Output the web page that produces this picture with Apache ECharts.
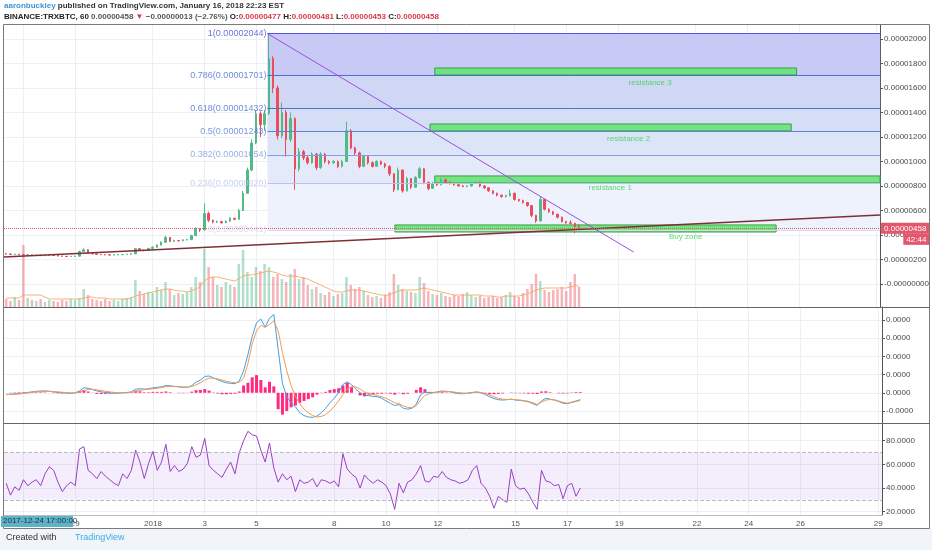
<!DOCTYPE html>
<html><head><meta charset="utf-8">
<script src="https://cdn.jsdelivr.net/npm/echarts@6/dist/echarts.min.js"></script>
<style>html,body{margin:0;padding:0;background:#fff}#c{width:932px;height:550px}</style>
</head><body><div id="c"></div>
<script>
// ---------- DATA (prices in satoshi = 1e-8 BTC, time in hours from 2018-01-01 00:00) ----------
const candleHours = [-136,-132,-128,-124,-120,-116,-112,-108,-104,-100,-96,-92,-88,-84,-80,-76,-72,-68,-64,-60,
-56,-52,-48,-44,-40,-36,-32,-28,-24,-20,-16,-12,-8,-4,0,4,8,12,16,20,24,28,32,36,40,44,48,52,56,60,
64,68,72,76,80,84,88,92,96,100,104,108,112,116,120,124,128,132,136,140,144,148,152,156,160,164,168,172,176,180,
184,188,192,196,200,204,208,212,216,220,224,228,232,236,240,244,248,252,256,260,264,268,272,276,280,284,288,292,296,300,
304,308,312,316,320,324,328,332,336,340,344,348,352,356,360,364,368,372,376,380,384,388,392,396];
const openP = [248,245,240,243,238,236,238,233,235,231,232,236,233,228,226,223,225,227,265,280,
250,246,241,240,238,236,238,240,240,243,246,288,275,272,290,300,318,340,380,348,
355,352,360,362,395,450,441,575,520,505,510,500,512,536,528,600,740,930,1150,1390,
1300,1390,1840,1600,1210,1400,1180,1350,940,1080,1030,990,1060,950,1060,1000,990,1000,960,1000,
1250,1110,1070,960,1040,990,960,1000,980,960,900,770,930,760,860,790,870,940,830,780,
820,810,850,830,820,810,800,795,800,825,830,800,785,760,740,725,713,720,740,690,
680,665,640,560,515,690,610,590,570,545,510,500,495,470];
const closeP = [245,240,243,238,236,238,233,235,231,232,236,233,228,226,223,225,227,265,280,250,
246,241,240,238,236,238,240,240,243,246,288,275,272,290,300,318,340,380,348,355,
352,360,362,395,450,441,575,520,505,510,500,512,536,528,600,740,930,1150,1390,1300,
1390,1840,1600,1210,1400,1180,1350,940,1080,1030,990,1060,950,1060,1000,990,1000,960,1000,1250,
1110,1070,960,1040,990,960,1000,980,960,900,770,930,760,860,790,870,940,830,780,820,
810,850,830,820,810,800,795,800,825,830,800,785,760,740,725,713,720,740,690,680,
665,640,560,515,690,610,590,570,545,510,500,495,470,458];
const lowP = [240,237,238,235,233,234,231,231,229,228,230,231,226,223,221,221,223,225,262,245,
242,238,236,235,233,234,236,237,238,241,244,270,266,270,286,296,314,336,342,344,
347,349,355,358,390,425,438,505,495,498,492,496,508,520,525,596,735,920,1140,1200,
1250,1380,1560,1180,1190,1040,1160,770,920,1010,975,980,930,940,985,975,980,945,950,995,
1100,1050,945,955,975,950,955,970,945,880,750,765,745,755,775,785,860,815,765,775,
800,805,820,812,802,795,790,790,796,818,790,775,752,732,715,705,706,715,680,670,
655,630,545,500,510,600,580,562,535,502,492,485,414,453];
const highP = [252,247,246,245,240,241,240,237,237,235,238,238,235,230,228,228,230,272,290,282,
253,248,244,242,240,241,243,244,246,252,295,292,280,295,306,324,348,392,384,360,
358,366,368,402,462,455,659,590,525,518,515,520,545,540,612,760,950,1180,1420,1410,
1420,2044,1860,1620,1480,1420,1400,1360,1110,1095,1045,1075,1070,1075,1070,1010,1012,1008,1015,1325,
1265,1120,1080,1055,1048,1000,1010,1008,990,968,905,950,935,875,865,880,955,945,835,835,
830,865,858,836,826,818,808,806,835,840,834,806,790,765,746,730,728,770,745,695,
688,670,645,565,710,695,618,596,575,550,516,520,500,490];
const volume = [8,6,10,7,62,9,7,6,8,5,7,6,5,7,6,8,7,9,18,12,
8,7,6,8,6,7,6,8,9,10,27,16,13,15,14,20,17,25,18,12,
14,13,15,20,30,25,58,40,30,22,20,25,22,20,43,57,35,30,40,36,
43,40,30,33,28,25,33,38,28,30,22,18,20,14,12,15,11,13,14,30,
22,18,20,16,12,10,11,9,12,15,33,22,18,16,15,14,30,24,16,13,
12,14,11,10,12,11,13,15,12,10,11,9,10,11,9,10,12,15,11,10,
14,18,23,33,26,17,15,17,18,20,16,25,33,20];
const volumeMA = [9,9,9,9,12,12,12,12,12,10,8,8,8,8,8,8,8,8,9,10,
10,9,9,9,8,8,8,8,8,9,11,12,13,14,15,16,17,18,18,17,
16,16,15,16,18,20,26,29,30,30,29,28,27,26,28,31,32,32,33,34,
35,36,35,34,32,31,31,31,30,29,28,26,24,22,20,18,16,15,15,16,
17,17,17,16,15,14,13,12,12,12,14,16,17,17,17,17,18,19,18,17,
16,15,14,13,12,12,12,12,12,12,12,11,11,11,10,10,11,11,11,11,
12,13,15,17,18,19,19,19,19,19,19,20,21,21];
const macdLine = [-0.09,-0.08,-0.06,-0.05,-0.02,0.02,0.05,0.08,0.1,0.1,0.08,0.05,0.02,0,-0.02,-0.03,0,0.1,0.27,0.25,
0.18,0.1,0.05,0.02,0,-0.02,-0.02,0,0.02,0.05,0.2,0.22,0.2,0.22,0.27,0.3,0.33,0.4,0.38,0.35,
0.32,0.3,0.3,0.4,0.58,0.7,0.9,0.92,0.82,0.72,0.62,0.55,0.52,0.5,0.65,1.2,2.1,3.1,3.85,4.05,
3.6,4.1,4.3,2.4,0.5,-0.22,-0.55,-0.77,-1.1,-1.25,-1.33,-1.35,-1.28,-1.1,-0.85,-0.55,-0.3,0,0.45,0.6,
0.45,0.2,0,-0.15,-0.15,-0.2,-0.22,-0.3,-0.45,-0.58,-0.7,-0.65,-0.85,-0.9,-0.85,-0.62,-0.1,0.05,0,0.02,
0.05,0.1,0.08,0.05,0,-0.05,-0.05,-0.02,0.02,0.05,0,-0.1,-0.22,-0.32,-0.38,-0.4,-0.38,-0.35,-0.4,-0.42,
-0.45,-0.5,-0.6,-0.7,-0.45,-0.3,-0.35,-0.4,-0.48,-0.58,-0.6,-0.52,-0.45,-0.38];
const signalLine = [-0.1,-0.09,-0.08,-0.06,-0.04,-0.01,0.02,0.05,0.07,0.08,0.08,0.07,0.05,0.03,0.01,-0.01,-0.01,0.03,0.12,0.18,
0.19,0.16,0.12,0.08,0.05,0.02,0,-0.01,0,0.02,0.08,0.14,0.17,0.19,0.22,0.25,0.28,0.33,0.35,0.35,
0.34,0.32,0.31,0.34,0.44,0.55,0.7,0.8,0.8,0.76,0.7,0.63,0.58,0.55,0.58,0.8,1.6,2.7,3.4,3.7,
3.6,3.75,3.95,3.4,2.2,1.2,0.4,-0.2,-0.6,-0.9,-1.1,-1.25,-1.33,-1.3,-1.2,-1.0,-0.75,-0.45,-0.1,0.2,
0.35,0.32,0.2,0.05,-0.05,-0.1,-0.15,-0.22,-0.3,-0.42,-0.55,-0.6,-0.72,-0.8,-0.82,-0.72,-0.4,-0.15,-0.05,0,
0.03,0.06,0.07,0.06,0.03,0,-0.03,-0.03,0,0.03,0.02,-0.04,-0.13,-0.22,-0.3,-0.35,-0.37,-0.36,-0.38,-0.4,
-0.43,-0.47,-0.55,-0.63,-0.52,-0.4,-0.37,-0.39,-0.45,-0.53,-0.57,-0.54,-0.48,-0.42];
const macdHist = [0,0.01,0.02,0.03,0.03,0.03,0.03,0.03,0.03,0.02,0,-0.02,-0.03,-0.03,-0.02,-0.01,0.01,0.07,0.15,0.07,
-0.01,-0.06,-0.07,-0.06,-0.05,-0.04,-0.02,0.01,0.02,0.03,0.12,0.08,0.03,0.03,0.05,0.05,0.05,0.07,0.03,0,
-0.02,-0.02,-0.01,0.06,0.14,0.15,0.2,0.12,0.02,-0.04,-0.08,-0.08,-0.06,-0.05,0.07,0.4,0.55,0.85,0.97,0.7,
0.3,0.6,0.35,-0.9,-1.2,-1.0,-0.8,-0.7,-0.55,-0.45,-0.35,-0.25,-0.1,-0.02,0.05,0.15,0.2,0.25,0.4,0.55,
0.3,0,-0.15,-0.2,-0.1,-0.08,-0.05,-0.05,-0.03,-0.05,-0.1,-0.02,-0.08,-0.05,0,0.15,0.3,0.2,0.05,0.02,
0.02,0.04,0.02,-0.01,-0.03,-0.02,-0.02,0.01,0.02,0.03,-0.02,-0.05,-0.08,-0.08,-0.06,-0.04,0,0.02,-0.02,-0.02,
-0.03,-0.05,-0.05,-0.07,0.07,0.08,0.03,0,-0.03,-0.04,-0.03,0.02,0.04,0.04];
const rsi = [44,34,41,38,47,42,45,47,42,52,58,55,45,37,42,45,42,73,75,55,
52,48,54,50,47,44,42,52,48,55,72,62,48,61,71,55,62,77,54,59,
54,56,61,75,66,68,82,59,55,52,49,56,62,52,70,80,88,85,84,72,
62,78,57,45,52,47,50,37,47,44,45,48,41,47,46,44,46,41,69,56,
52,49,40,51,47,44,47,45,42,35,22,44,36,45,47,52,59,46,45,50,
49,54,49,47,46,44,45,47,55,59,44,40,33,23,33,30,28,56,42,39,
40,35,28,22,55,46,45,42,43,31,42,44,33,40];

// axis ticks
const timeTicks = [-120,-72,0,48,96,168,216,264,336,384,432,504,552,600,672];
const timeTickLabels = ['27','29','2018','3','5','8','10','12','15','17','19','22','24','26','29'];
const priceTicks = [0,200,400,600,800,1000,1200,1400,1600,1800,2000];
const priceTickLabels = ['-0.00000000','0.00000200','0.00000400','0.00000600','0.00000800','0.00001000',
  '0.00001200','0.00001400','0.00001600','0.00001800','0.00002000'];
const macdTicks = [-1,0,1,2,3,4];
const macdTickLabels = ['-0.0000','0.0000','0.0000','0.0000','0.0000','0.0000'];
const rsiTicks = [20,40,60,80];
const rsiTickLabels = ['20.0000','40.0000','60.0000','80.0000'];

// drawings
const fibRatios = [1,0.786,0.618,0.5,0.382,0.236,0];
const fibPrices = [2044,1701,1432,1243,1054,820,441];
const fibStartT = 106.6;
const trendT = [106.6,446.6], trendP = [2044,261];
const supportT = [-138,675.5], supportP = [220,563];
const zoneNames = ['resistance 3','resistance 2','resistance 1','Buy zone'];
const zoneFromT = [262,257.6,262,225];
const zoneToT = [598,593,675.5,579];
const zoneTopP = [1763,1306,882,482];
const zoneBottomP = [1706,1249,824,424];
const zoneLabelT = [462,442,425,495];
const zoneLabelP = [1641,1184,784,384];
const rsiBand = [30,70];
const countdown = '42:44';

// ---------- STYLE ----------
const T0 = -138, T1 = 675.5;
const UP = '#53b987', DOWN = '#eb4d5c';
const fibBandColors = ['#c9c9f5','#cfd7f5','#d6def6','#dce4f8','#e4eaf9','#eef2fc'];
const fibLineColors = ['#5757d8','#4c70d2','#4c70d2','#5b82d9','#7d9ce1','#b4c4ec','#d3dbf2'];
const fibLabelColors = ['#4d4dd6','#4a6fd1','#4a6fd1','#5a80d8','#7b9be0','#bac7ec','#c8d2f0'];
const FONT = 'Liberation Sans';
const sat = v => (v/1e8).toFixed(8);

const chart = echarts.init(document.getElementById('c'));
const lastClose = closeP[closeP.length-1];

const gridDefs = [
  {left:4, top:25, width:878, height:282},
  {left:4, top:307, width:878, height:116},
  {left:4, top:423, width:878, height:92}
];
function xAx(i, showLabel){
  return {type:'value', gridIndex:i, min:T0, max:T1,
    axisLine:{show:showLabel, onZero:false, lineStyle:{color:'#b8bcc4'}},
    axisTick:{show:false, customValues:timeTicks},
    splitLine:{show:true, lineStyle:{color:'#eceff3', width:1}},
    axisLabel:{show:showLabel, customValues:timeTicks, fontSize:8, color:'#555', fontFamily:FONT, margin:5,
      formatter:v=>timeTickLabels[timeTicks.indexOf(v)]}};
}
function yAx(i, min, max, ticks, labels){
  return {type:'value', gridIndex:i, position:'right', min:min, max:max,
    axisLine:{show:true, onZero:false, lineStyle:{color:'#555'}},
    axisTick:{show:true, length:3, customValues:ticks, lineStyle:{color:'#555'}},
    splitLine:{show:true, lineStyle:{color:'#eceff3'}},
    axisLabel:{customValues:ticks, fontSize:8, color:'#4a4a4a', fontFamily:FONT, margin:4,
      formatter:v=>labels[ticks.indexOf(v)]}};
}

const fibAreas = [];
for (let i=0;i<fibPrices.length-1;i++){
  fibAreas.push([{coord:[fibStartT,fibPrices[i]], itemStyle:{color:fibBandColors[i], opacity:1}},{coord:[T1,fibPrices[i+1]]}]);
}
const fibLines = fibPrices.map((p,i)=>[{coord:[fibStartT,p], lineStyle:{color:fibLineColors[i], width:1, type:'solid'}},{coord:[T1,p]}]);

const option = {
  animation:false,
  backgroundColor:'#ffffff',
  textStyle:{fontFamily:FONT},
  title:[
    {left:2, top:0, padding:[2,2], text:'{u|aaronbuckley}{g| published on TradingView.com, January 16, 2018 22:23 EST}',
      textStyle:{rich:{u:{color:'#3b94d9',fontSize:8,fontFamily:FONT},g:{color:'#333',fontSize:8,fontFamily:FONT}}}},
    {left:2, top:11, padding:[2,2], text:'{k|BINANCE:TRXBTC, 60 }{g|0.00000458 }{r|▼}{g| −0.00000013 (−2.76%) }{k|O:}{r|0.00000477 }{k|H:}{r|0.00000481 }{k|L:}{r|0.00000453 }{k|C:}{r|0.00000458}',
      textStyle:{rich:{k:{color:'#222',fontSize:8,fontFamily:FONT},g:{color:'#555',fontSize:8,fontFamily:FONT},r:{color:'#d8394a',fontSize:8,fontFamily:FONT}}}}
  ],
  grid:gridDefs,
  xAxis:[xAx(0,false), xAx(1,false), xAx(2,true)],
  yAxis:[
    yAx(0,-188,2114,priceTicks,priceTickLabels),
    {type:'value', gridIndex:0, min:0, max:282, show:false, splitLine:{show:false}},
    yAx(1,-1.66,4.71,macdTicks,macdTickLabels),
    yAx(2,17.2,95,rsiTicks,rsiTickLabels)
  ],
  series:[
    {name:'fib', type:'line', xAxisIndex:0, yAxisIndex:0, data:[], z:1, silent:true,
      markArea:{silent:true, data:fibAreas},
      markLine:{silent:true, symbol:['none','none'], label:{show:false}, data:fibLines}},
    {name:'volume', type:'bar', xAxisIndex:0, yAxisIndex:1, z:2, barWidth:2.5,
      data:candleHours.map((t,i)=>[t,volume[i]]),
      itemStyle:{color:p=>closeP[p.dataIndex]>=openP[p.dataIndex]?'rgba(83,185,135,0.45)':'rgba(235,77,92,0.42)'}},
    {name:'volMA', type:'line', xAxisIndex:0, yAxisIndex:1, z:2, showSymbol:false,
      data:candleHours.map((t,i)=>[t,volumeMA[i]]), lineStyle:{color:'#f5a55e', width:1, opacity:0.85}},
    {name:'price', type:'candlestick', xAxisIndex:0, yAxisIndex:0, z:3, barWidth:2,
      data:candleHours.map((t,i)=>[t,openP[i],closeP[i],lowP[i],highP[i]]),
      encode:{x:0, y:[1,2,3,4]},
      itemStyle:{color:UP, color0:DOWN, borderColor:UP, borderColor0:DOWN, borderWidth:1}},
    {name:'zones', type:'line', xAxisIndex:0, yAxisIndex:0, data:[], z:4, silent:true,
      markArea:{silent:true, data:zoneNames.map((n,i)=>[{coord:[zoneFromT[i],zoneTopP[i]],
        itemStyle:{color:'#6ee37a', borderColor:'#2f9e3f', borderWidth:1, opacity:0.95}},{coord:[zoneToT[i],zoneBottomP[i]]}])}},
    {name:'lines', type:'line', xAxisIndex:0, yAxisIndex:0, data:[], z:5, silent:true,
      markLine:{silent:true, symbol:['none','none'], data:[
        [{coord:[trendT[0],trendP[0]], lineStyle:{color:'#9a4fe0', width:1, type:'solid'}, label:{show:false}},{coord:[trendT[1],trendP[1]]}],
        [{coord:[supportT[0],supportP[0]], lineStyle:{color:'#7e2f36', width:1.3, type:'solid'}, label:{show:false}},{coord:[supportT[1],supportP[1]]}],
        [{coord:[T0,lastClose], lineStyle:{color:'#e8536a', width:1, type:'dotted'},
          label:{show:true, position:'end', distance:1, offset:[0,6],
            formatter:'{a|'+sat(lastClose)+'}\n{b|'+countdown+'}',
            rich:{a:{backgroundColor:'#e4566b', color:'#fff', fontSize:8, padding:[2,3,1,3], fontFamily:FONT, align:'left'},
                  b:{backgroundColor:'#e4566b', color:'#fff', fontSize:8, padding:[2,3,1,3], fontFamily:FONT, align:'right'}}}},
         {coord:[T1,lastClose]}]
      ]}},
    {name:'fibLabels', type:'scatter', xAxisIndex:0, yAxisIndex:0, z:6, symbolSize:0, silent:true,
      data:fibPrices.map((p,i)=>({value:[fibStartT,p],
        label:{show:true, position:'left', distance:1, fontSize:9, fontFamily:FONT, color:fibLabelColors[i],
          formatter:fibRatios[i]+'('+sat(p)+')'}}))},
    {name:'zoneLabels', type:'scatter', xAxisIndex:0, yAxisIndex:0, z:6, symbolSize:0, silent:true,
      data:zoneNames.map((n,i)=>({value:[zoneLabelT[i],zoneLabelP[i]],
        label:{show:true, position:'inside', fontSize:8, fontFamily:FONT, color:'#33d44a', formatter:n}}))},
    {name:'hist', type:'bar', xAxisIndex:1, yAxisIndex:2, z:2, barWidth:3,
      data:candleHours.map((t,i)=>[t,macdHist[i]]), itemStyle:{color:'#ff2a7f'}},
    {name:'macd', type:'line', xAxisIndex:1, yAxisIndex:2, z:3, showSymbol:false,
      data:candleHours.map((t,i)=>[t,macdLine[i]]), lineStyle:{color:'#3f9fe6', width:1}},
    {name:'signal', type:'line', xAxisIndex:1, yAxisIndex:2, z:3, showSymbol:false,
      data:candleHours.map((t,i)=>[t,signalLine[i]]), lineStyle:{color:'#f59a4c', width:1}},
    {name:'rsi', type:'line', xAxisIndex:2, yAxisIndex:3, z:3, showSymbol:false,
      data:candleHours.map((t,i)=>[t,rsi[i]]), lineStyle:{color:'#9b3fc4', width:1},
      markArea:{silent:true, itemStyle:{color:'rgba(155,90,230,0.11)'}, data:[[{coord:[T0,rsiBand[1]]},{coord:[T1,rsiBand[0]]}]]},
      markLine:{silent:true, symbol:['none','none'], label:{show:false},
        lineStyle:{color:'#b9b9c4', type:'dashed', width:1},
        data:[[{coord:[T0,rsiBand[1]]},{coord:[T1,rsiBand[1]]}],[{coord:[T0,rsiBand[0]]},{coord:[T1,rsiBand[0]]}]]}}
  ],
  graphic:[
    {type:'rect', z:100, shape:{x:3.5,y:24.5,width:926,height:504}, style:{fill:'none', stroke:'#7a7a7a', lineWidth:1}, silent:true},
    {type:'line', z:100, shape:{x1:4,y1:307.5,x2:930,y2:307.5}, style:{stroke:'#666', lineWidth:1}, silent:true},
    {type:'line', z:100, shape:{x1:4,y1:423.5,x2:930,y2:423.5}, style:{stroke:'#666', lineWidth:1}, silent:true},
    {type:'rect', z:90, shape:{x:0,y:529,width:932,height:21}, style:{fill:'#f1f4f9'}, silent:true},
    {type:'text', z:101, left:6, top:533, style:{text:'Created with', fill:'#333', font:'9px "Liberation Sans"'}},
    {type:'group', z:101, left:57, top:533, children:[
      {type:'circle', shape:{cx:5,cy:6,r:3.5}, style:{fill:'#3aaee2'}},
      {type:'circle', shape:{cx:9,cy:4,r:4}, style:{fill:'#3aaee2'}},
      {type:'circle', shape:{cx:13,cy:6.5,r:3}, style:{fill:'#3aaee2'}},
      {type:'rect', shape:{x:5,y:6,width:8,height:3.5}, style:{fill:'#3aaee2'}},
      {type:'polyline', shape:{points:[[3,8],[7,5],[10,7],[14,3]]}, style:{stroke:'#fff', lineWidth:1, fill:'none'}}
    ]},
    {type:'text', z:101, left:75, top:533, style:{text:'TradingView', fill:'#3aaee2', font:'9px "Liberation Sans"'}},
    {type:'rect', z:102, shape:{x:1,y:516,width:72,height:11}, style:{fill:'#5fb3c6'}, silent:true},
    {type:'text', z:103, left:3, top:517, style:{text:'2017-12-24 17:00:00', fill:'#183040', font:'8px "Liberation Sans"'}}
  ]
};
chart.setOption(option);
</script>
</body></html>
